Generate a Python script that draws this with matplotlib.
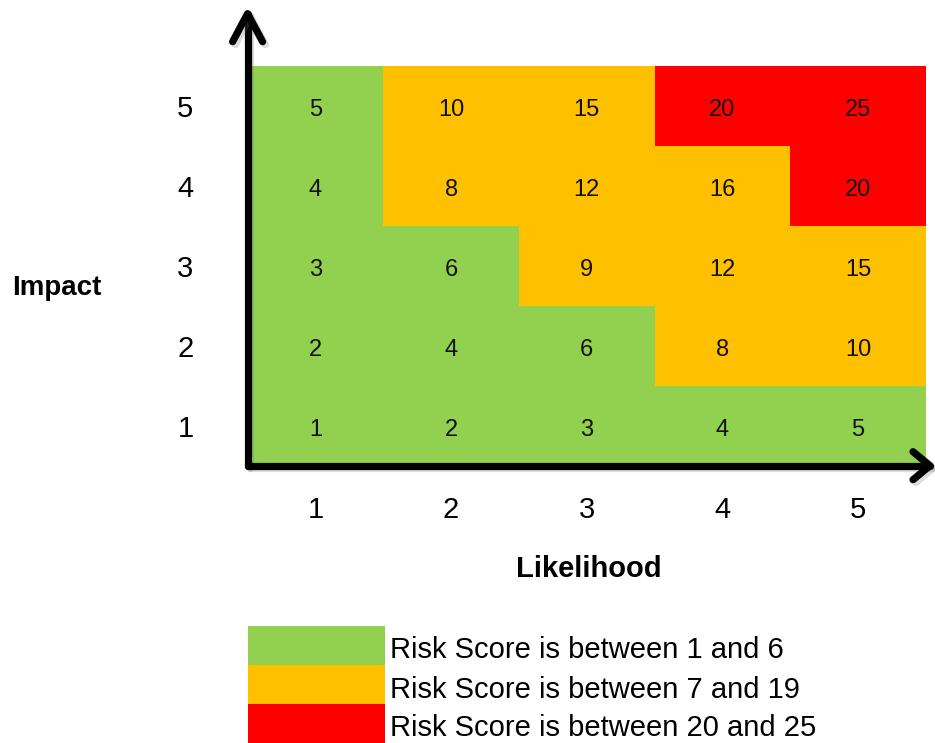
import matplotlib
matplotlib.use("Agg")
import matplotlib.pyplot as plt
from matplotlib.patches import Rectangle
from matplotlib.lines import Line2D
from matplotlib import transforms
import matplotlib.patheffects as pe

plt.rcParams["font.family"] = ["Liberation Sans", "DejaVu Sans"]

# --- data -------------------------------------------------------------
likelihood = [1, 2, 3, 4, 5]
impact = [1, 2, 3, 4, 5]
# risk score per (impact row, likelihood column)
scores = [
    [1, 2, 3, 4, 5],
    [2, 4, 6, 8, 10],
    [3, 6, 9, 12, 15],
    [4, 8, 12, 16, 20],
    [5, 10, 15, 20, 25],
]
band_low = [1, 7, 20]
band_high = [6, 19, 25]
band_colors = ["#92D050", "#FFC000", "#FF0000"]
band_labels = [f"Risk Score is between {lo} and {hi}" for lo, hi in zip(band_low, band_high)]


def band_color(s):
    for lo, hi, c in zip(band_low, band_high, band_colors):
        if lo <= s <= hi:
            return c
    return "white"


W, H, DPI = 935, 743, 100
fig = plt.figure(figsize=(W / DPI, H / DPI), dpi=DPI)

# main grid axes (pixel box: x 247.6..926, y 65.7..465.7 from top)
gx0, gx1, gy0, gy1 = 247.6, 926.0, 65.7, 465.7
ax = fig.add_axes([gx0 / W, 1 - gy1 / H, (gx1 - gx0) / W, (gy1 - gy0) / H])
ax.set_xlim(0.5, 5.5)
ax.set_ylim(0.5, 5.5)

cell_text_tr = transforms.offset_copy(ax.transData, fig=fig, x=0, y=-4, units="dots")
for i, imp in enumerate(impact):
    for j, lk in enumerate(likelihood):
        s = scores[i][j]
        ax.add_patch(Rectangle((lk - 0.5, imp - 0.5), 1, 1,
                               facecolor=band_color(s), edgecolor="none"))
        ax.text(lk, imp, str(s), ha="center", va="center", fontsize=17,
                color="#111111", transform=cell_text_tr)

for sp in ax.spines.values():
    sp.set_visible(False)
ax.set_xticks(likelihood)
ax.set_xticklabels([str(v) for v in likelihood], fontsize=21)
ax.set_yticks(impact)
ax.set_yticklabels([str(v) for v in impact], fontsize=21)
ax.tick_params(axis="x", length=0, pad=22)
ax.tick_params(axis="y", length=0, pad=39)

# axis arrows, drawn in axes fraction with pixel-sized chevrons
aw, ah = gx1 - gx0, gy1 - gy0
shadow = [pe.SimpleLineShadow(offset=(2, -2), shadow_color="#777777", alpha=0.25), pe.Normal()]
arrow_kw = dict(transform=ax.transAxes, clip_on=False, color="black",
                lw=5.2, solid_capstyle="round", solid_joinstyle="round",
                path_effects=shadow)
# vertical (Impact)
vtip = 1 + 52 / ah
ax.add_line(Line2D([0, 0], [0, vtip], **arrow_kw))
ax.add_line(Line2D([-15 / aw, 0, 15 / aw], [vtip - 28 / ah, vtip, vtip - 28 / ah], **arrow_kw))
# horizontal (Likelihood)
htip = 1 + 4 / aw
ax.add_line(Line2D([0, htip], [0, 0], **arrow_kw))
ax.add_line(Line2D([htip - 17 / aw, htip, htip - 17 / aw], [14 / ah, 0, -14 / ah], **arrow_kw))

fig.text(57 / W, 1 - 288 / H, "Impact", ha="center", va="center",
         fontsize=20, fontweight="bold")
fig.text(589 / W, 1 - 569 / H, "Likelihood", ha="center", va="center",
         fontsize=21, fontweight="bold")

# legend block
lx0, lx1, ly0, ly1 = 248, 385, 626, 743
lax = fig.add_axes([lx0 / W, 1 - ly1 / H, (lx1 - lx0) / W, (ly1 - ly0) / H])
lax.set_xlim(0, 1)
lax.set_ylim(0, len(band_colors))
lax.axis("off")
n = len(band_colors)
leg_text_tr = transforms.offset_copy(lax.transData, fig=fig, x=0, y=-5, units="dots")
for k, (c, lab) in enumerate(zip(band_colors, band_labels)):
    y = n - 1 - k
    lax.add_patch(Rectangle((0, y), 1, 1, facecolor=c, edgecolor="none"))
    lax.text(1.04, y + 0.5, lab, ha="left", va="center", fontsize=21,
             transform=leg_text_tr, clip_on=False)

fig.savefig("out.png", dpi=DPI, facecolor="white")
